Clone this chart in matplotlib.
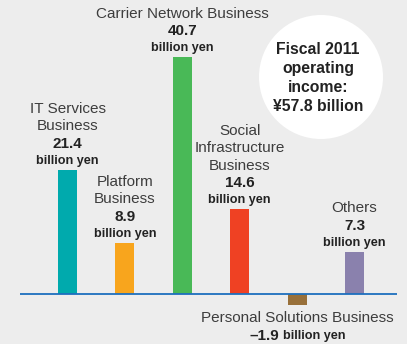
import matplotlib
matplotlib.use("Agg")
from matplotlib import pyplot as plt
from matplotlib.patches import Ellipse

# operating income by segment, billion yen
segments = [
    ["IT Services", "Business"],
    ["Platform", "Business"],
    ["Carrier Network Business"],
    ["Social", "Infrastructure", "Business"],
    ["Personal Solutions Business"],
    ["Others"],
]
values = [21.4, 8.9, 40.7, 14.6, -1.9, 7.3]
value_text = ["21.4", "8.9", "40.7", "14.6", "\u20131.9", "7.3"]
colors = ["#00aaad", "#f8a51d", "#49b957", "#ef4123", "#98703a", "#8a81ad"]

total_lines = ["Fiscal 2011", "operating", "income:", "\u00a557.8 billion"]

plt.rcParams["font.family"] = ["Liberation Sans", "DejaVu Sans"]

W, H = 407, 344
fig = plt.figure(figsize=(W / 100, H / 100), dpi=100, facecolor="#ededed")
ax = fig.add_axes([0, 0, 1, 1])
ax.set_facecolor("#ededed")
ax.axis("off")

# 57.4 px between bars, 5.82 px per billion yen
px_x, px_y = 57.4, 5.82
x0, y0 = 67.5, 294.3
ax.set_xlim(-x0 / px_x, (W - x0) / px_x)
ax.set_ylim(-(H - y0) / px_y, y0 / px_y)

xs = list(range(len(values)))
ax.bar(xs, values, width=19 / px_x, color=colors, zorder=2)
ax.hlines(0, (19.5 - x0) / px_x, (397 - x0) / px_x, color="#1d6fbe", lw=1.3, zorder=3)

pt = 0.72  # points per pixel at 100 dpi
label_color = "#3d3d3d"
dark = "#222222"

for x, v, lines, vt in zip(xs, values, segments, value_text):
    if v >= 0:
        ax.annotate("billion yen", (x, v), xytext=(0, 9 * pt), textcoords="offset points",
                    ha="center", va="center", fontsize=9.1, fontweight="bold", color=dark)
        ax.annotate(vt, (x, v), xytext=(0, 26 * pt), textcoords="offset points",
                    ha="center", va="center", fontsize=11, fontweight="bold", color=dark)
        for i, line in enumerate(reversed(lines)):
            ax.annotate(line, (x, v), xytext=(0, (43.5 + 17.5 * i) * pt), textcoords="offset points",
                        ha="center", va="center", fontsize=11, color=label_color)
    else:
        ax.annotate(lines[0], (x, v), xytext=(0, -13 * pt), textcoords="offset points",
                    ha="center", va="center", fontsize=11, color=label_color)
        ax.annotate(vt, (x, v), xytext=(-18 * pt, -31 * pt), textcoords="offset points",
                    ha="right", va="center", fontsize=11, fontweight="bold", color=dark)
        ax.annotate("billion yen", (x, v), xytext=(-14 * pt, -31 * pt), textcoords="offset points",
                    ha="left", va="center", fontsize=9.1, fontweight="bold", color=dark)

# total in a white circle
cx, cy, r = 321, 77, 62
fig.patches.append(Ellipse((cx / W, 1 - cy / H), 2 * r / W, 2 * r / H,
                           transform=fig.transFigure, facecolor="white", edgecolor="none"))
for i, line in enumerate(total_lines):
    fig.text(cx / W - 3 / W, 1 - (50 + 18.7 * i) / H, line, ha="center", va="center",
             fontsize=11.3, fontweight="bold", color=dark)

fig.savefig("out.png", dpi=100, facecolor=fig.get_facecolor())
